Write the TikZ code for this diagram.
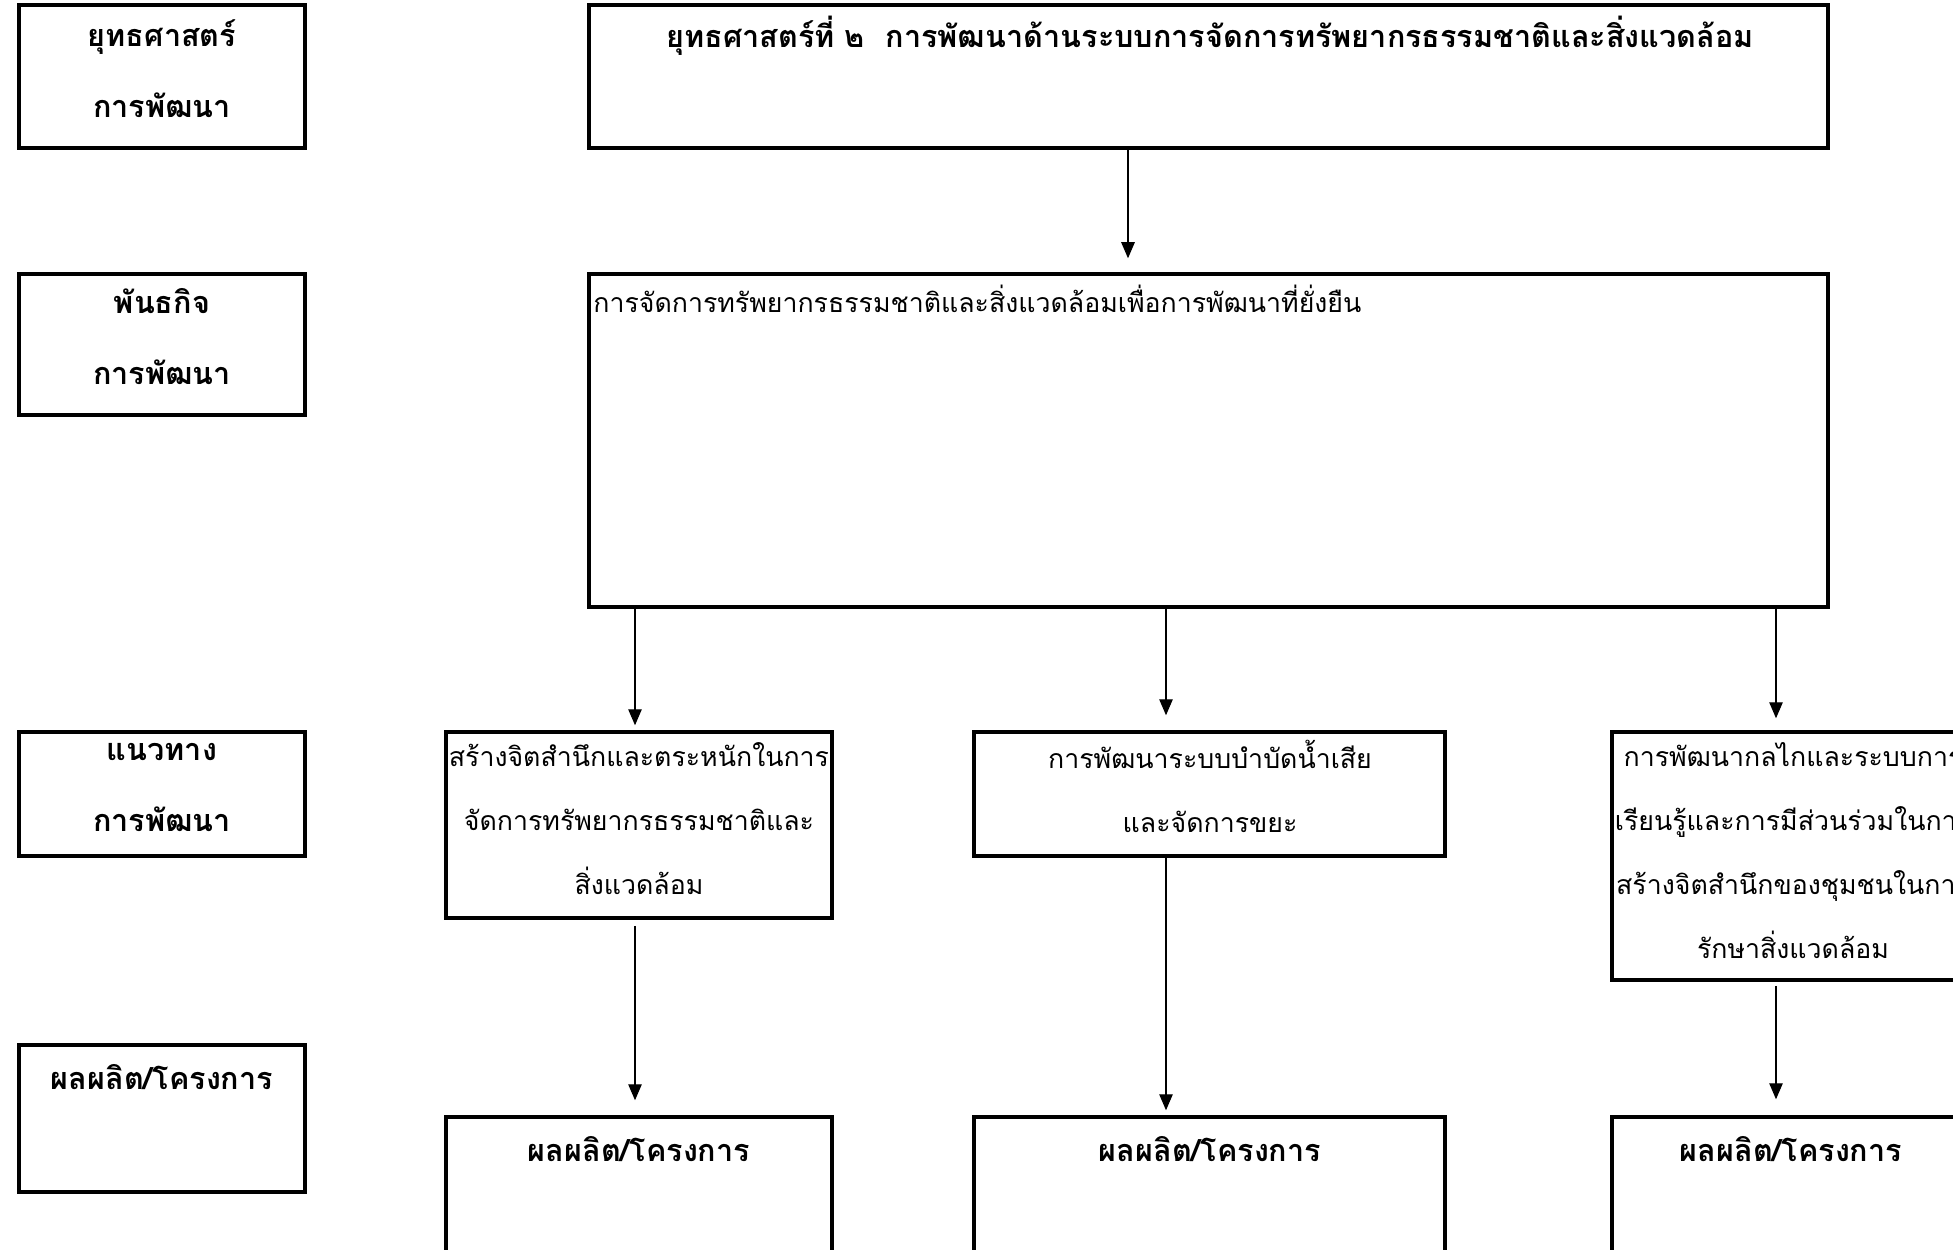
\documentclass[tikz,border=0pt]{standalone}
\usepackage{fontspec}
\setmainfont[Script=Thai]{Loma}
\usetikzlibrary{fit,arrows.meta}
\tikzset{
  box/.style={draw, line width=2pt, inner sep=0pt},
  arr/.style={line width=0.6pt, -{Triangle[length=0.32cm,width=0.27cm]}},
  bt/.style={font=\bfseries\fontsize{17.4}{40.4}\selectfont, align=center},
  nt/.style={font=\fontsize{15.2}{36.4}\selectfont, align=center},
}
\begin{document}
\begin{tikzpicture}[x=0.02cm,y=-0.02cm]
\useasboundingbox (0,0) rectangle (1953,1250);
\clip (0,0) rectangle (1953,1250);
% left labels
\node[box, fit={(19,5) (305,148)}] (l1) {};
\node[box, fit={(19,274) (305,415)}] (l2) {};
\node[box, fit={(19,732) (305,856)}] (l3) {};
\node[box, fit={(19,1045) (305,1192)}] (l4) {};
\node[bt] (t1) at (162,69) {ยุทธศาสตร์\\การพัฒนา};
\node[bt] (t2) at (162,337) {พันธกิจ\\การพัฒนา};
\node[bt] (t3) at (162,787) {แนวทาง\\การพัฒนา};
\node[bt] (t4) at (162,1077) {ผลผลิต/โครงการ};
% top
\node[box, fit={(589,5) (1828,148)}] (top) {};
\node[bt] (ttop) at (1210,36) {ยุทธศาสตร์ที่ ๒~~การพัฒนาด้านระบบการจัดการทรัพยากรธรรมชาติและสิ่งแวดล้อม};
\node[box, fit={(589,274) (1828,607)}] (mis) {};
\node[nt, anchor=west, inner sep=0pt] (tmis) at (593,299) {การจัดการทรัพยากรธรรมชาติและสิ่งแวดล้อมเพื่อการพัฒนาที่ยั่งยืน};
% strategies
\node[box, fit={(446,732) (832,918)}] (sa) {};
\node[box, fit={(974,732) (1445,856)}] (sb) {};
\node[box, fit={(1612,732) (1970,980)}] (sc) {};
\node[nt] (tsa) at (639,819) {สร้างจิตสำนึกและตระหนักในการ\\จัดการทรัพยากรธรรมชาติและ\\สิ่งแวดล้อม};
\node[nt] (tsb) at (1210,786) {การพัฒนาระบบบำบัดน้ำเสีย\\และจัดการขยะ};
\node[nt] (tsc) at (1793,851) {การพัฒนากลไกและระบบการ\\เรียนรู้และการมีส่วนร่วมในการ\\สร้างจิตสำนึกของชุมชนในการ\\รักษาสิ่งแวดล้อม};
% products
\node[box, fit={(446,1117) (832,1300)}] (pa) {};
\node[box, fit={(974,1117) (1445,1300)}] (pb) {};
\node[box, fit={(1612,1117) (1970,1300)}] (pc) {};
\node[bt] (tpa) at (639,1149) {ผลผลิต/โครงการ};
\node[bt] (tpb) at (1210,1149) {ผลผลิต/โครงการ};
\node[bt] (tpc) at (1791,1149) {ผลผลิต/โครงการ};
% arrows
\coordinate (x0) at (1128,0);
\coordinate (xa) at (635,0);
\coordinate (xb) at (1166,0);
\coordinate (xc) at (1776,0);
\draw[arr, shorten >=0.28cm] (top.south -| x0) -- (mis.north -| x0);
\draw[arr, shorten >=0.1cm] (mis.south -| xa) -- (sa.north -| xa);
\draw[arr, shorten >=0.3cm] (mis.south -| xb) -- (sb.north -| xb);
\draw[arr, shorten >=0.24cm] (mis.south -| xc) -- (sc.north -| xc);
\draw[arr, shorten <=0.12cm, shorten >=0.3cm] (sa.south -| xa) -- (pa.north -| xa);
\draw[arr, shorten >=0.1cm] (sb.south -| xb) -- (pb.north -| xb);
\draw[arr, shorten <=0.08cm, shorten >=0.32cm] (sc.south -| xc) -- (pc.north -| xc);
\end{tikzpicture}
\end{document}
